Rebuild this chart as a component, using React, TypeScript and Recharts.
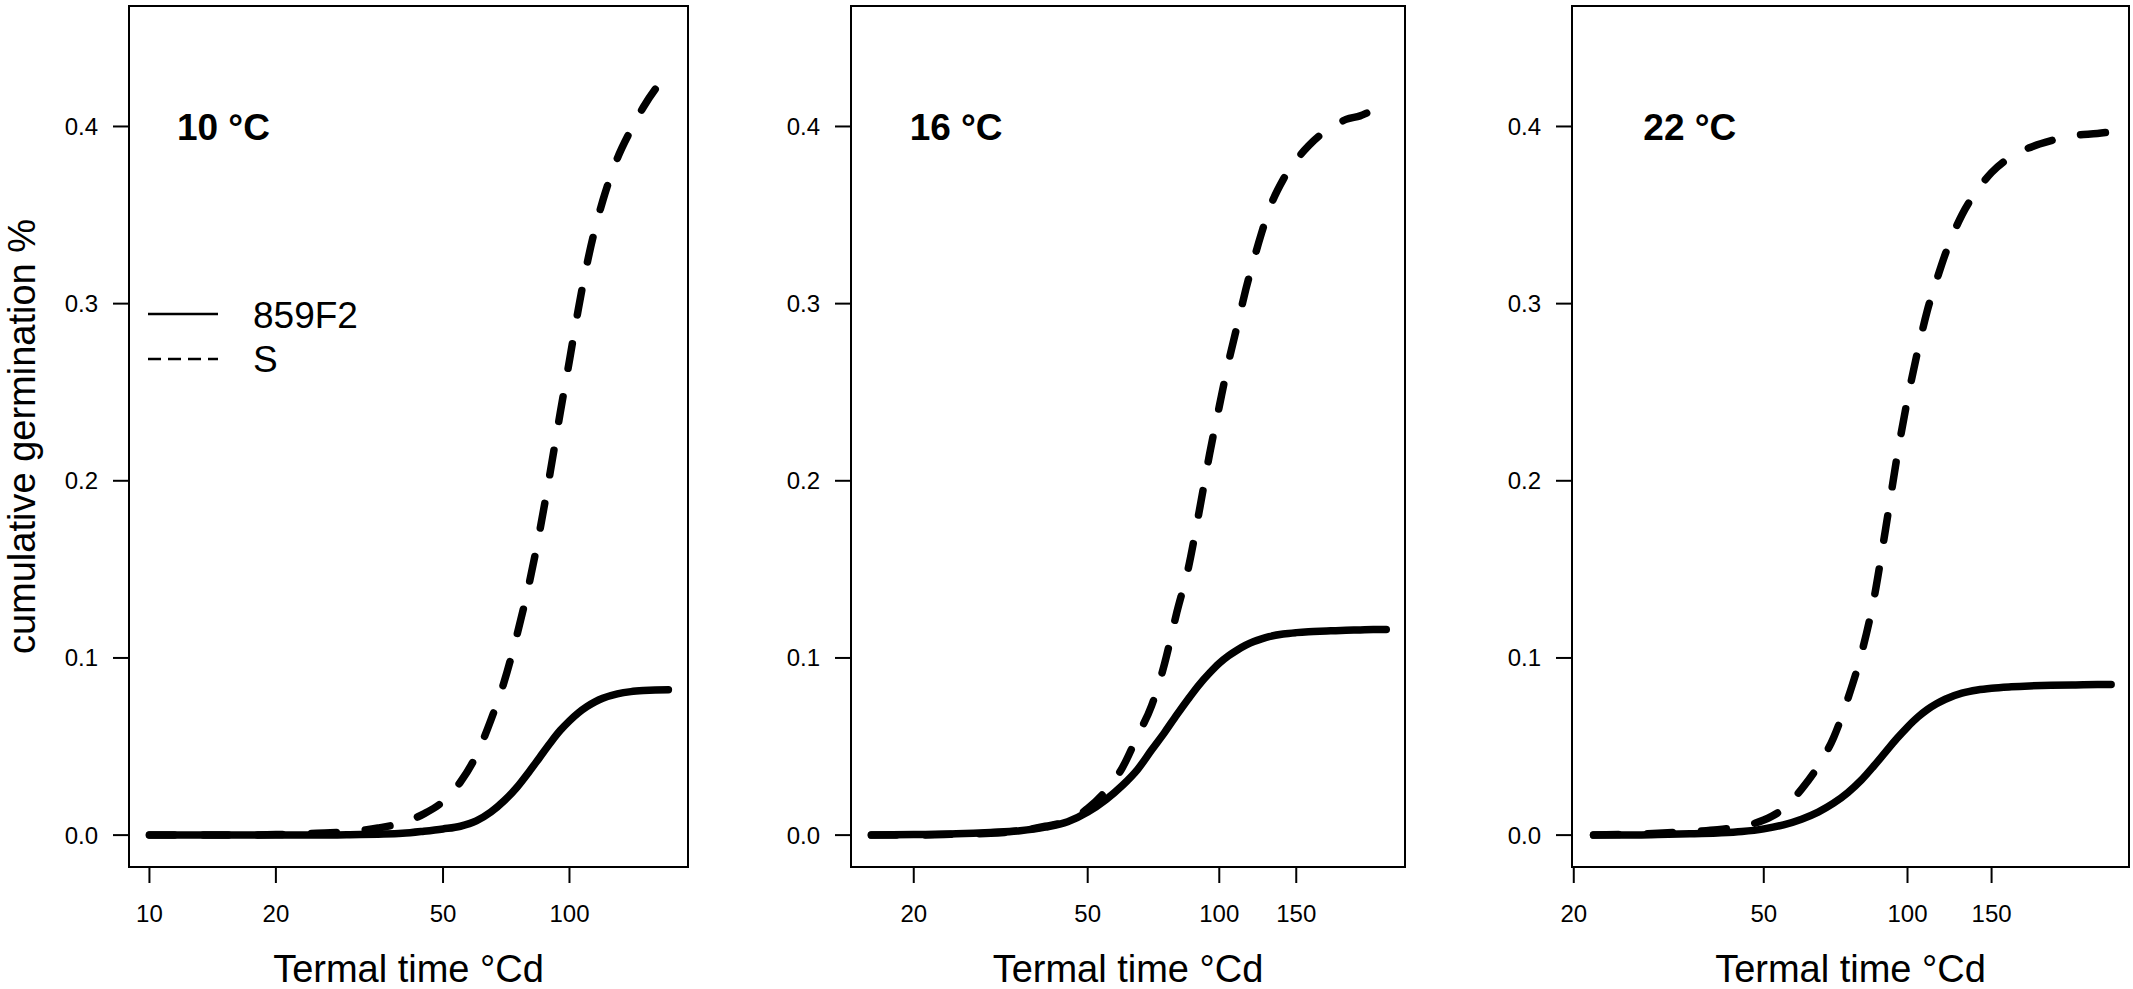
import React from 'react'
import { LineChart, Line, XAxis, YAxis, ReferenceArea, ReferenceDot, Legend } from 'recharts'

const FONT = '"Liberation Sans", Arial, Helvetica, sans-serif'

// series names
const seriesNames = ['859F2', 'S']

// 10 °C
const time10 = [10, 15, 20, 25, 30, 35, 40, 45, 50, 55, 60, 65, 70, 75, 80, 85, 90, 95, 100, 105, 110, 115, 120, 130, 140, 150, 160, 172]
const line859F2_10 = [0, 0, 0, 0, 0.0002, 0.0005, 0.001, 0.0022, 0.0035, 0.005, 0.008, 0.013, 0.0195, 0.027, 0.0355, 0.044, 0.052, 0.059, 0.0645, 0.069, 0.0725, 0.0752, 0.0772, 0.0797, 0.081, 0.0816, 0.0819, 0.082]
const lineS_10 = [0, 0, 0.0003, 0.001, 0.002, 0.004, 0.007, 0.012, 0.019, 0.03, 0.045, 0.065, 0.087, 0.113, 0.141, 0.172, 0.205, 0.238, 0.268, 0.297, 0.322, 0.342, 0.358, 0.382, 0.398, 0.411, 0.421, 0.43]

// 16 °C
const time16 = [16, 20, 25, 30, 35, 40, 45, 50, 55, 60, 65, 70, 75, 80, 85, 90, 95, 100, 105, 110, 115, 120, 125, 130, 140, 150, 160, 170, 180, 195, 210, 225, 241]
const line859F2_16 = [0, 0.0003, 0.0007, 0.0015, 0.0025, 0.0045, 0.0075, 0.013, 0.02, 0.028, 0.037, 0.048, 0.058, 0.068, 0.077, 0.085, 0.0915, 0.097, 0.1012, 0.1045, 0.1072, 0.1093, 0.1108, 0.112, 0.1135, 0.1143, 0.1148, 0.1151, 0.1153, 0.1156, 0.1158, 0.116, 0.116]
const lineS_16 = [0, 0, 0.0005, 0.001, 0.0025, 0.005, 0.008, 0.015, 0.025, 0.038, 0.056, 0.073, 0.097, 0.126, 0.151, 0.183, 0.215, 0.242, 0.267, 0.288, 0.308, 0.325, 0.34, 0.353, 0.37, 0.381, 0.389, 0.395, 0.399, 0.404, 0.406, 0.409, 0.41]

// 22 °C
const time22 = [22, 25, 30, 35, 40, 45, 50, 55, 60, 65, 70, 75, 80, 85, 90, 95, 100, 105, 110, 115, 120, 130, 140, 150, 165, 180, 200, 225, 250, 267]
const line859F2_22 = [0, 0, 0.0003, 0.0007, 0.0012, 0.002, 0.0035, 0.0058, 0.009, 0.013, 0.018, 0.024, 0.031, 0.039, 0.047, 0.0545, 0.061, 0.0665, 0.0708, 0.0741, 0.0767, 0.0801, 0.0819, 0.0829, 0.0837, 0.0842, 0.0846, 0.0848, 0.085, 0.085]
const lineS_22 = [0, 0.0003, 0.001, 0.002, 0.003, 0.005, 0.0085, 0.015, 0.026, 0.039, 0.055, 0.077, 0.102, 0.133, 0.173, 0.213, 0.246, 0.273, 0.296, 0.313, 0.328, 0.35, 0.364, 0.374, 0.383, 0.388, 0.392, 0.395, 0.396, 0.397]

// axes
const yTicks = [0, 0.1, 0.2, 0.3, 0.4]
const yDomain = [-0.018, 0.468]
const xTicks10 = [10, 20, 50, 100]
const xTicks16 = [20, 50, 100, 150]
const xTicks22 = [20, 50, 100, 150]

const xTitle = 'Termal time °Cd'
const yTitle = 'cumulative germination %'

function buildData(time: number[], f2: number[], s: number[]) {
  return time.map((t, i) => ({ t, f2: f2[i], s: s[i] }))
}

function XTitle({ viewBox }: any) {
  return (
    <text x={viewBox.x + viewBox.width / 2} y={982} textAnchor="middle" fontSize={38} fontFamily={FONT} fill="#000">
      {xTitle}
    </text>
  )
}

function YTitle({ viewBox }: any) {
  const cy = viewBox.y + viewBox.height / 2
  return (
    <text transform={`translate(35, ${cy}) rotate(-90)`} textAnchor="middle" fontSize={38} fontFamily={FONT} fill="#000">
      {yTitle}
    </text>
  )
}

function LegendBox() {
  return (
    <svg width={300} height={100} style={{ overflow: 'visible' }}>
      <line x1={0} x2={70} y1={24} y2={24} stroke="#000" strokeWidth={2.5} />
      <text x={105} y={38} fontSize={37} fontFamily={FONT} fill="#000">{seriesNames[0]}</text>
      <line x1={0} x2={70} y1={69} y2={69} stroke="#000" strokeWidth={2.5} strokeDasharray="13 7" />
      <text x={105} y={82} fontSize={37} fontFamily={FONT} fill="#000">{seriesNames[1]}</text>
    </svg>
  )
}

interface PanelProps {
  left: number
  width: number
  marginRight: number
  time: number[]
  f2: number[]
  s: number[]
  xDomain: number[]
  xTicks: number[]
  label: string
  labelAt: number
  first?: boolean
}

function Panel({ left, width, marginRight, time, f2, s, xDomain, xTicks, label, labelAt, first }: PanelProps) {
  const data = buildData(time, f2, s)
  const tickStyle = { fill: '#000', fontSize: 24, fontFamily: FONT }
  return (
    <div style={{ position: 'absolute', left, top: 0 }}>
      <LineChart width={width} height={989} data={data} margin={{ top: 6, right: marginRight, bottom: 0, left: 0 }}>
        <XAxis
          dataKey="t"
          type="number"
          scale="log"
          domain={xDomain}
          ticks={xTicks}
          allowDataOverflow
          height={122}
          axisLine={false}
          tickSize={16}
          tickMargin={22}
          tickLine={{ stroke: '#000', strokeWidth: 2 }}
          tick={tickStyle}
          label={{ content: XTitle }}
        />
        <YAxis
          type="number"
          domain={yDomain}
          ticks={yTicks}
          allowDataOverflow
          width={129}
          axisLine={false}
          tickSize={16}
          tickMargin={15}
          tickLine={{ stroke: '#000', strokeWidth: 2 }}
          tick={tickStyle}
          tickFormatter={(v: number) => v.toFixed(1)}
          label={first ? { content: YTitle } : undefined}
        />
        <ReferenceArea
          x1={xDomain[0]}
          x2={xDomain[1]}
          y1={yDomain[0]}
          y2={yDomain[1]}
          fill="none"
          fillOpacity={0}
          stroke="#000"
          strokeWidth={2}
          ifOverflow="visible"
        />
        <ReferenceDot
          x={labelAt}
          y={0.4}
          r={0}
          fill="none"
          stroke="none"
          label={{ value: label, position: 'center', fontSize: 37, fontWeight: 'bold', fontFamily: FONT, fill: '#000' }}
        />
        <Line
          dataKey="s"
          name={seriesNames[1]}
          type="monotone"
          stroke="#000"
          strokeWidth={7.5}
          strokeDasharray="25 29"
          strokeLinecap="round"
          strokeLinejoin="round"
          dot={false}
          activeDot={false}
          isAnimationActive={false}
        />
        <Line
          dataKey="f2"
          name={seriesNames[0]}
          type="monotone"
          stroke="#000"
          strokeWidth={7.5}
          strokeLinecap="round"
          strokeLinejoin="round"
          dot={false}
          activeDot={false}
          isAnimationActive={false}
        />
        {first && (
          <Legend
            layout="vertical"
            align="center"
            verticalAlign="middle"
            wrapperStyle={{ left: 148, top: 290, width: 300, height: 100 }}
            content={() => <LegendBox />}
          />
        )}
      </LineChart>
    </div>
  )
}

export default function App() {
  return (
    <div style={{ position: 'absolute', left: 0, top: 0, width: 2133, height: 989, background: '#fff', fontFamily: FONT }}>
      <Panel left={0} width={700} marginRight={12} time={time10} f2={line859F2_10} s={lineS_10}
        xDomain={[8.94, 191.5]} xTicks={xTicks10} label="10 °C" labelAt={15} first />
      <Panel left={722} width={700} marginRight={17} time={time16} f2={line859F2_16} s={lineS_16}
        xDomain={[14.37, 266]} xTicks={xTicks16} label="16 °C" labelAt={25} />
      <Panel left={1443} width={690} marginRight={4} time={time22} f2={line859F2_22} s={lineS_22}
        xDomain={[19.83, 291]} xTicks={xTicks22} label="22 °C" labelAt={35} />
    </div>
  )
}
